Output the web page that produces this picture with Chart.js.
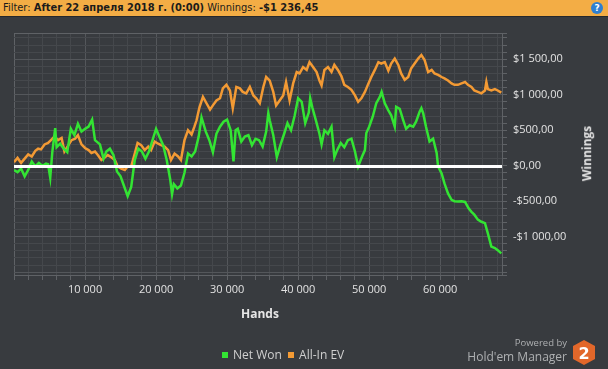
<!DOCTYPE html>
<html>
<head>
<meta charset="utf-8">
<script src="https://cdn.jsdelivr.net/npm/chart.js@4.4.1/dist/chart.umd.min.js"></script>
<style>
  body { margin: 0; width: 608px; height: 369px; background: #383b3f; overflow: hidden; position: relative; font-family: 'Open Sans', sans-serif; }
  .header { position: absolute; left: 0; top: 0; width: 608px; height: 16px; background: #f3ad45; border-bottom: 1px solid #26282b; color: #1b1b1b; font: 11px 'DejaVu Sans Condensed', 'Liberation Sans Narrow', sans-serif; line-height: 16px; }
  .header span { margin-left: 3px; }
  .header b { font-weight: bold; }
  .help { position: absolute; right: 5px; top: 2px; width: 12px; height: 12px; border-radius: 50%; background: #2f7fd0; color: #fff; font: bold 9px 'DejaVu Sans', sans-serif; text-align: center; line-height: 12px; }
  .chart-box { position: absolute; left: 0; top: 17px; width: 608px; height: 352px; }
  .axis-title { position: absolute; color: #e6e6e6; font: bold 12px 'Open Sans', sans-serif; white-space: nowrap; }
  .legend { position: absolute; left: 222px; top: 346px; color: #cfcfcf; font: 12px 'Open Sans', sans-serif; white-space: nowrap; }
  .legend i { display: inline-block; width: 6px; height: 6px; margin-right: 5px; vertical-align: 1px; }
  .brand { position: absolute; right: 41px; color: #aeb0b2; font-family: 'Open Sans', sans-serif; white-space: nowrap; text-align: right; }
</style>
</head>
<body>
<div class="header"><span>Filter: <b>After 22 апреля 2018 г. (0:00)</b> Winnings: <b>-$1 236,45</b></span><div class="help">?</div></div>
<div class="chart-box"><canvas id="winningsChart"></canvas></div>
<div class="axis-title" style="left:241px;top:305px;">Hands</div>
<div class="axis-title" style="left:559px;top:145px;transform:rotate(-90deg);">Winnings</div>
<div class="legend"><i style="background:#33e433"></i>Net Won&nbsp;&nbsp;<i style="background:#f39a34"></i>All-In EV</div>
<div class="brand" style="top:336px;font-size:9.5px;">Powered by</div>
<div class="brand" style="top:348px;font-size:12px;">Hold'em Manager</div>
<svg style="position:absolute;left:572px;top:340px;" width="24" height="25" viewBox="0 0 24 25">
  <polygon points="12,0 23,6 23,19 12,25 1,19 1,6" fill="#e2672a"/>
  <text x="12" y="19" text-anchor="middle" font-family="DejaVu Sans" font-weight="bold" font-size="16" fill="#ffffff">2</text>
</svg>
<script>
const netWonHands = [0, 500, 1000, 1500, 2000, 2500, 3000, 3500, 4000, 4500, 4800, 5100, 5400, 5800, 6000, 6500, 7000, 7500, 8000, 8500, 9000, 9500, 10000, 10500, 11000, 11400, 12100, 12600, 13000, 13500, 14000, 14500, 15000, 15500, 16000, 16500, 17000, 17500, 18000, 18500, 19000, 19500, 20000, 20500, 21000, 21500, 22000, 22250, 22500, 23000, 23500, 24000, 24500, 25000, 25500, 26000, 26400, 27000, 27500, 28000, 28500, 29000, 29500, 30000, 30500, 30900, 31200, 31500, 32000, 32500, 33000, 33500, 34000, 34500, 35000, 35500, 35800, 36000, 36500, 37000, 37500, 38000, 38500, 39000, 39500, 40000, 40500, 41000, 41500, 41700, 42000, 42500, 43000, 43300, 43700, 44200, 44700, 45100, 45500, 46000, 46500, 47000, 47500, 48000, 48450, 49000, 49400, 49600, 50000, 50500, 51000, 51500, 51750, 52200, 52700, 53100, 53600, 53800, 54300, 54800, 55200, 55700, 56200, 56600, 57100, 57350, 57600, 58000, 58500, 59000, 59500, 59700, 60200, 60600, 61100, 61600, 62000, 62500, 63000, 63500, 64000, 64400, 64800, 65300, 65800, 66300, 66700, 67200, 67700, 68100, 68600];
const netWon = [-60, -90, -40, -150, -60, 60, -10, 40, 0, 30, 20, -170, 200, 530, 260, 310, 240, 190, 520, 430, 590, 480, 520, 550, 650, 360, 300, 100, 200, 240, 150, -80, -150, -290, -430, -300, 80, 240, 200, 100, 200, 360, 520, 400, 290, 80, -200, -400, -260, -320, -280, -100, 170, 130, 200, 410, 680, 480, 360, 190, 450, 550, 620, 650, 500, 60, 500, 520, 340, 410, 430, 290, 380, 360, 270, 480, 740, 640, 430, 120, 290, 440, 600, 500, 700, 950, 900, 600, 750, 950, 820, 640, 450, 300, 500, 450, 550, 120, 220, 320, 260, 360, 380, 200, -10, 130, 220, 460, 550, 690, 880, 970, 1040, 880, 780, 710, 550, 830, 800, 640, 520, 570, 550, 620, 760, 810, 740, 550, 340, 380, 180, -10, -110, -250, -390, -480, -500, -505, -500, -510, -600, -650, -690, -760, -790, -810, -950, -1140, -1160, -1190, -1236];

const allInHands = [0, 500, 1000, 1500, 2000, 2500, 3000, 3400, 3800, 4300, 4800, 5200, 5700, 6200, 6700, 7100, 7600, 8100, 8600, 9000, 9500, 10000, 10500, 10900, 11400, 11800, 12300, 12800, 13200, 13700, 14200, 14600, 15100, 15600, 16000, 16500, 17000, 17400, 17900, 18400, 18900, 19300, 19800, 20300, 20700, 21200, 21700, 22100, 22600, 23100, 23500, 24000, 24500, 25000, 25400, 25700, 26100, 26600, 27100, 27600, 28000, 28500, 29000, 29400, 29900, 30400, 30800, 31300, 31800, 32200, 32700, 33200, 33700, 34100, 34600, 35100, 35500, 36000, 36500, 36900, 37400, 37900, 38300, 38800, 39300, 39800, 40200, 40700, 41200, 41600, 42100, 42600, 43000, 43300, 43700, 44200, 44700, 45100, 45600, 46100, 46500, 47000, 47500, 48000, 48450, 48900, 49400, 49900, 50300, 50800, 51300, 51700, 52200, 52700, 53100, 53600, 54100, 54500, 55000, 55500, 55900, 56400, 56900, 57350, 57800, 58300, 58800, 59200, 59700, 60200, 60600, 61100, 61600, 62000, 62500, 63000, 63500, 63900, 64400, 64800, 65300, 65800, 66300, 66500, 66700, 67200, 67700, 68100, 68600];
const allInEv = [50, 110, 40, 100, 160, 130, 210, 240, 230, 300, 320, 360, 410, 360, 390, 200, 280, 360, 380, 430, 300, 250, 220, 180, 200, 150, 80, 120, 150, 120, 80, -10, -40, -60, -10, -10, 170, 320, 290, 220, 270, 220, 340, 310, 290, 270, 220, 80, 170, 130, 80, 360, 500, 440, 550, 640, 820, 970, 880, 790, 850, 920, 950, 1090, 1140, 1060, 810, 1110, 1090, 1040, 1020, 1110, 990, 950, 880, 1110, 1250, 1200, 1040, 850, 920, 990, 1180, 920, 1160, 1320, 1300, 1390, 1350, 1460, 1390, 1320, 1200, 1130, 1350, 1390, 1320, 1420, 1350, 1260, 1140, 1110, 1070, 990, 900, 950, 1040, 1160, 1250, 1350, 1460, 1440, 1460, 1340, 1440, 1510, 1420, 1300, 1210, 1250, 1370, 1440, 1510, 1560, 1490, 1320, 1350, 1300, 1280, 1250, 1230, 1200, 1160, 1140, 1140, 1160, 1180, 1140, 1110, 1060, 1040, 1020, 1060, 1180, 1080, 1060, 1080, 1060, 1030];

const seriesNames = ['Net Won', 'All-In EV'];
const seriesColors = ['#33e433', '#f39a34'];

const handsMin = 0, handsMax = 68700, handsStep = 2000;
const winMin = -1540, winMax = 1870, winStep = 100;

const borderGray = '#5f6266';
const majorGrid = '#54575b';
const minorGrid = '#45484c';

function money(v) {
    const parts = Math.abs(v).toFixed(2).split('.');
    const whole = parts[0].replace(/\B(?=(\d{3})+(?!\d))/g, ' ');
    return (v < 0 ? '-' : '') + '$' + whole + ',' + parts[1];
}

function toPoints(xs, ys) {
    return xs.map((x, i) => ({ x: x, y: ys[i] }));
}

// round-valued ticks between the (non-round) axis bounds
function roundTicks(min, max, step, withMax) {
    const list = [];
    if (min % step !== 0) list.push({ value: min });
    for (let v = Math.ceil(min / step) * step; v <= max; v += step) list.push({ value: v });
    if (withMax && max % step !== 0) list.push({ value: max });
    return list;
}

// white zero line on top of the series
const zeroLine = {
    id: 'zeroLine',
    afterDatasetsDraw(chart) {
        const { ctx, chartArea, scales } = chart;
        const y = Math.round(scales.y.getPixelForValue(0)) + 0.5;
        ctx.save();
        ctx.strokeStyle = '#ffffff';
        ctx.lineWidth = 3;
        ctx.beginPath();
        ctx.moveTo(chartArea.left, y);
        ctx.lineTo(chartArea.right, y);
        ctx.stroke();
        ctx.restore();
    }
};

new Chart(document.getElementById('winningsChart'), {
    type: 'line',
    data: {
        datasets: [
            { label: seriesNames[0], data: toPoints(netWonHands, netWon), borderColor: seriesColors[0], backgroundColor: seriesColors[0], borderWidth: 2.5, pointRadius: 0, tension: 0 },
            { label: seriesNames[1], data: toPoints(allInHands, allInEv), borderColor: seriesColors[1], backgroundColor: seriesColors[1], borderWidth: 2.5, pointRadius: 0, tension: 0 }
        ]
    },
    options: {
        responsive: true,
        maintainAspectRatio: false,
        animation: false,
        layout: { padding: { left: 14, top: 16, right: 0, bottom: 0 } },
        plugins: {
            legend: { display: false },
            tooltip: { enabled: false }
        },
        scales: {
            x: {
                type: 'linear',
                min: handsMin,
                max: handsMax,
                afterBuildTicks(scale) { scale.ticks = roundTicks(handsMin, handsMax, handsStep, false); },
                afterFit(scale) { scale.height = 94; },
                border: { color: borderGray, width: 1 },
                grid: {
                    tickLength: 5,
                    tickColor: borderGray,
                    color: ctx => {
                        const v = ctx.tick.value;
                        if (v === handsMin) return borderGray;
                        return v % 10000 === 0 ? majorGrid : minorGrid;
                    }
                },
                ticks: {
                    autoSkip: false,
                    maxRotation: 0,
                    padding: 3,
                    color: '#e2e2e2',
                    font: { family: 'Open Sans', size: 11 },
                    callback: v => (v > 0 && v % 10000 === 0) ? String(v).replace(/\B(?=(\d{3})+(?!\d))/g, ' ') : ''
                }
            },
            y: {
                position: 'right',
                min: winMin,
                max: winMax,
                afterBuildTicks(scale) { scale.ticks = roundTicks(winMin, winMax, winStep, true); },
                afterFit(scale) { scale.width = 106; },
                border: { color: borderGray, width: 1 },
                grid: {
                    tickLength: 5,
                    tickColor: borderGray,
                    color: ctx => {
                        const v = ctx.tick.value;
                        if (v === winMax) return borderGray;
                        return v % 500 === 0 ? majorGrid : minorGrid;
                    }
                },
                ticks: {
                    autoSkip: false,
                    padding: 6,
                    color: '#e2e2e2',
                    font: { family: 'Open Sans', size: 11 },
                    callback: v => (v % 500 === 0 && v >= -1000 && v <= 1500) ? money(v) : ''
                }
            }
        }
    },
    plugins: [zeroLine]
});
</script>
</body>
</html>
